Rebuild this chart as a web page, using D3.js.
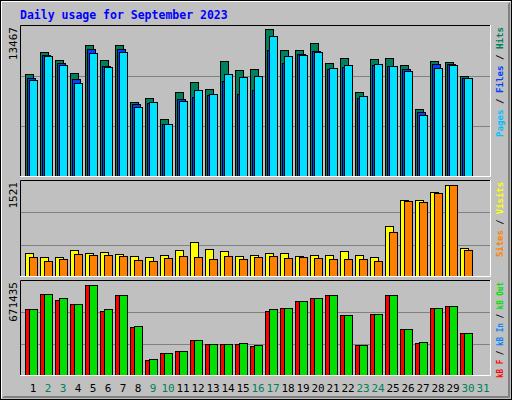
<!DOCTYPE html>
<html><head><meta charset="utf-8">
<script src="https://cdn.jsdelivr.net/npm/d3@7"></script>
<style>body{margin:0;background:#fff}</style></head>
<body><svg id="c" width="512" height="400"></svg>
<script>
const days = d3.range(1, 32).map(String);
const weekendDays = ["2","3","9","10","16","17","23","24","30","31"];
const hits = [9346,11348,10620,9437,11985,10620,11985,6798,7162,5251,7708,8618,7981,10529,9710,9801,13441,11530,11530,12167,10347,10802,7708,10711,10802,10165,6161,10529,10438,9164];
const files = [8982,11075,10347,8891,11621,10074,11621,6616,6707,4796,7071,7253,7435,8709,7526,7890,11530,10347,11166,11439,9801,9983,7162,10165,10074,9801,5888,10256,10256,8982];
const pages = [8800,10984,10165,8527,11257,9983,11348,6343,6798,4796,6889,7890,7526,9346,9073,9164,12804,10984,11075,11348,9892,10165,7344,10256,10074,9619,5615,9892,10165,8982];
const visits = [390,324,324,439,390,407,374,341,324,357,439,571,456,423,341,357,390,390,341,357,357,423,357,324,834,1267,1267,1399,1521,472];
const sites = [324,258,291,374,357,357,341,275,258,308,341,324,291,341,291,324,341,308,324,308,291,291,291,258,736,1246,1230,1378,1521,439];
const kbF = [495000,600000,561000,532000,671435,480000,591000,363000,120000,172000,187000,267000,238000,238000,238000,223000,480000,502000,547000,576000,591000,451000,231000,458000,591000,348000,245000,502000,510000,319000];
const kbIn = new Array(30).fill(0);
const kbOut = [495000,605000,569000,532000,671435,488000,598000,370000,128000,172000,187000,267000,238000,238000,245000,231000,488000,502000,554000,576000,598000,451000,231000,458000,591000,348000,253000,502000,510000,319000];
const maxLabels = ["13467","1521","671435"];

const svg = d3.select("#c");
svg.append("rect").attr("x",0.5).attr("y",0.5).attr("width",511).attr("height",399).attr("fill","#C0C0C0").attr("stroke","#000");
svg.append("path").attr("d","M1.5,398.5V1.5H510.5").attr("stroke","#fff").attr("fill","none");
svg.append("path").attr("d","M2.5,397.5H509.5V2.5").attr("stroke","#808080").attr("fill","none");
svg.append("path").attr("d","M3.5,396.5H508.5V3.5").attr("stroke","#808080").attr("fill","none");

svg.append("text").attr("x",20).attr("y",19).attr("fill","#0000FF")
  .attr("font-family","DejaVu Sans Mono").attr("font-weight","bold").attr("font-size",11.5)
  .text("Daily usage for September 2023");

const slot = d => 25 + (+d - 1) * 15;

function panel(y0, y1, domMax, label, series, legend, legLen) {
  svg.append("rect").attr("x",20).attr("y",y0).attr("width",471).attr("height",y1-y0).attr("fill","#C0C0C0");
  const y = d3.scaleLinear().domain([0, domMax]).range([y1, y0]);
  const h = y1 - y0;
  [1,2].forEach(k => svg.append("line").attr("x1",21).attr("x2",490)
    .attr("y1",Math.round(y1 - h*k/3)+0.5).attr("y2",Math.round(y1 - h*k/3)+0.5).attr("stroke","#808080"));
  series.forEach(s => {
    svg.append("g").selectAll("rect").data(s.vals).join("rect")
      .attr("x",(v,i)=>slot(i+1)+s.off+0.5).attr("width",s.w)
      .attr("y",v=>Math.round(y(v))+0.5).attr("height",v=>Math.max(0,y1-Math.round(y(v))-1))
      .attr("fill",s.color).attr("stroke","#000");
  });
  svg.append("path").attr("d",`M20.5,${y1}V${y0+0.5}H491`).attr("stroke","#000").attr("fill","none");
  svg.append("path").attr("d",`M20,${y1-0.5}H490.5V${y0}`).attr("stroke","#fff").attr("fill","none");
  svg.append("text").attr("transform",`translate(17,${y0+2}) rotate(-90)`).attr("text-anchor","end")
    .attr("font-family","DejaVu Sans Mono").attr("font-size",11).attr("fill","#000").text(label);
  const t = svg.append("text").attr("transform",`translate(503,${y0+2}) rotate(-90)`)
    .attr("text-anchor","end").attr("textLength",legLen).attr("lengthAdjust","spacingAndGlyphs")
    .attr("font-family","DejaVu Sans Mono").attr("font-weight","bold").attr("font-size",9.5);
  legend.forEach((p,i) => {
    if (i) t.append("tspan").attr("fill","#000").text(" / ");
    t.append("tspan").attr("fill",p[1]).text(p[0]);
  });
}

panel(25, 177, 13467*152/148, maxLabels[0], [
  {vals:hits, off:0, w:8, color:"#00805C"},
  {vals:files, off:2, w:8, color:"#0040FF"},
  {vals:pages, off:4, w:8, color:"#00E0FF"}
], [["Pages","#00C0FF"],["Files","#0040FF"],["Hits","#00805C"]], 110);

panel(180, 277, 1521*97/92.5, maxLabels[1], [
  {vals:visits, off:0, w:8, color:"#FFFF00"},
  {vals:sites, off:4, w:8, color:"#FF8000"}
], [["Sites","#FF8000"],["Visits","#FFFF00"]], 75);

panel(280, 376, 671435*96/91.5, maxLabels[2], [
  {vals:kbF, off:0, w:8, color:"#FF0000"},
  {vals:kbIn, off:2, w:8, color:"#0080FF"},
  {vals:kbOut, off:4, w:8, color:"#00E000"}
], [["kB F","#FF0000"],["kB In","#0080FF"],["kB Out","#00E000"]], 96);

svg.append("g").selectAll("text").data(days).join("text")
  .attr("x",d=>slot(d)+8).attr("y",392).attr("text-anchor","middle")
  .attr("font-family","DejaVu Sans Mono").attr("font-size",11)
  .attr("fill",d=>weekendDays.includes(d)?"#00805C":"#000").text(d=>d);
</script></body></html>
